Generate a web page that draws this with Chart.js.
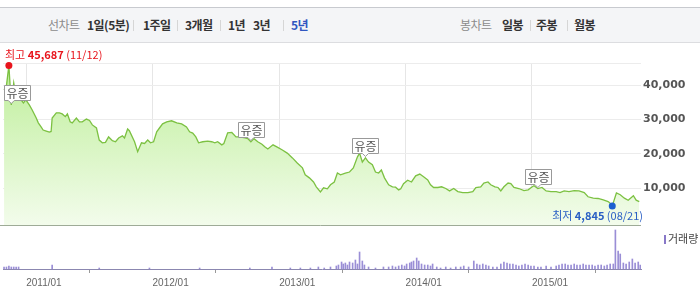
<!DOCTYPE html>
<html>
<head>
<meta charset="utf-8">
<script src="https://cdn.jsdelivr.net/npm/chart.js@4"></script>
<style>
body{margin:0;width:700px;height:298px;background:#fff;position:relative;overflow:hidden;font-family:"Noto Sans CJK KR",sans-serif}
#hdr{position:absolute;left:0;top:7px;width:700px;height:34px;background:#f4f5f7;border-top:1px solid #c8cacf;border-bottom:1px solid #dcdde0}
#hdr span{position:absolute;top:0;line-height:34px;font-size:12px;font-weight:bold;color:#333;letter-spacing:-0.5px;white-space:nowrap}
#hdr span.cap{color:#8c8c8c;font-weight:normal}
#hdr span.on{color:#2f56c0}
#hdr i{position:absolute;top:12px;width:1px;height:11px;background:#d6d6d6}
canvas{position:absolute;left:0}
</style>
</head>
<body>
<div id="hdr">
  <span class="cap" style="left:48px">선차트</span>
  <span style="left:87px">1일(5분)</span><i style="left:133px"></i>
  <span style="left:143px">1주일</span><i style="left:177px"></i>
  <span style="left:185px">3개월</span><i style="left:220px"></i>
  <span style="left:228px">1년</span>
  <span style="left:253px">3년</span><i style="left:283px"></i>
  <span class="on" style="left:291px">5년</span>
  <span class="cap" style="left:460px">봉차트</span>
  <span style="left:502px">일봉</span><i style="left:530px"></i>
  <span style="left:536px">주봉</span><i style="left:567px"></i>
  <span style="left:574px">월봉</span>
</div>
<canvas id="price" width="700" height="181" style="top:45px"></canvas>
<canvas id="volume" width="700" height="72" style="top:226px"></canvas>
<script>
// weekly close
const priceDates = [
  '2010-10-29','2010-11-05','2010-11-12','2010-11-19','2010-11-26','2010-12-03','2010-12-10','2010-12-17','2010-12-24','2010-12-31',
  '2011-01-10','2011-01-18','2011-01-30','2011-02-05','2011-02-13','2011-02-19','2011-02-28','2011-03-09','2011-03-14','2011-03-17',
  '2011-03-29','2011-04-07','2011-04-15','2011-04-24','2011-04-30','2011-05-08','2011-05-14','2011-05-26','2011-06-04','2011-06-12',
  '2011-06-24','2011-07-03','2011-07-11','2011-07-23','2011-07-31','2011-08-09','2011-08-18','2011-08-27','2011-09-07','2011-09-16',
  '2011-09-25','2011-10-06','2011-10-12','2011-10-21','2011-10-26','2011-11-10','2011-11-19','2011-11-30','2011-12-09','2011-12-18',
  '2011-12-26','2012-01-04','2012-01-13','2012-01-21','2012-01-30','2012-02-11','2012-02-25','2012-03-11','2012-03-25','2012-04-08',
  '2012-04-17','2012-04-26','2012-05-05','2012-05-13','2012-05-25','2012-06-08','2012-06-20','2012-06-29','2012-07-07','2012-07-19',
  '2012-07-25','2012-08-05','2012-08-17','2012-08-29','2012-09-09','2012-09-24','2012-10-02','2012-10-11','2012-10-20','2012-10-31',
  '2012-11-12','2012-11-21','2012-11-29','2012-12-14','2012-12-25','2013-01-10','2013-01-24','2013-02-08','2013-02-22','2013-03-09',
  '2013-03-17','2013-03-29','2013-04-10','2013-04-18','2013-04-30','2013-05-09','2013-05-20','2013-05-29','2013-06-09','2013-06-18',
  '2013-06-27','2013-07-11','2013-07-23','2013-08-03','2013-08-15','2013-08-21','2013-08-29','2013-09-07','2013-09-16','2013-09-27',
  '2013-10-06','2013-10-15','2013-10-23','2013-11-01','2013-11-13','2013-11-24','2013-12-03','2013-12-12','2013-12-18','2013-12-26',
  '2014-01-07','2014-01-18','2014-01-30','2014-02-11','2014-02-22','2014-03-06','2014-03-14','2014-03-23','2014-04-04','2014-04-15',
  '2014-04-27','2014-05-08','2014-05-20','2014-06-01','2014-06-15','2014-06-30','2014-07-14','2014-07-23','2014-08-06','2014-08-15',
  '2014-08-27','2014-09-04','2014-09-16','2014-09-25','2014-10-03','2014-10-12','2014-10-24','2014-11-01','2014-11-10','2014-11-24',
  '2014-12-09','2014-12-21','2015-01-02','2015-01-07','2015-01-18','2015-01-30','2015-02-11','2015-02-25','2015-03-12','2015-03-23',
  '2015-04-04','2015-04-18','2015-05-03','2015-05-17','2015-06-01','2015-06-12','2015-06-27','2015-07-11','2015-07-26','2015-08-09',
  '2015-08-14','2015-08-21','2015-09-02','2015-09-13','2015-09-25','2015-10-06','2015-10-21','2015-10-29','2015-11-07'
];
const priceValues = [
  38600,39800,45687,34200,40600,36500,35900,35700,34800,35700,
  34200,32800,30400,29000,27800,26900,26600,26300,26500,30400,
  31900,31900,31600,30800,31600,29300,29000,30400,29300,29300,
  30100,29700,28400,27500,24000,23200,23300,24900,23800,23500,
  24600,25200,24600,27200,26700,23500,20600,23200,23000,24000,
  23200,23500,26400,27500,28700,29300,29600,29000,28700,27800,
  26400,26000,24900,23200,23500,23700,23500,23200,23500,22600,
  23000,26100,26200,24900,24900,24600,24400,23500,24400,23500,
  22800,22000,21400,22600,22000,21100,20200,18800,17300,15900,
  13900,13000,11800,10400,8900,10100,9800,11000,11800,14400,
  13900,14400,14700,15900,19100,20200,17600,18800,17600,16800,
  14700,14400,15300,13000,11000,10400,10300,9500,9800,11300,
  12300,11800,13600,14100,13300,12400,11000,10200,10200,10400,
  9900,9200,9900,9000,8700,8700,9000,10200,10400,11500,
  11800,11000,10400,10200,9200,10400,11500,11300,10200,9900,
  9300,9500,10400,10700,9900,10200,9200,9000,9000,8700,
  9200,9000,9300,9200,8700,7500,7100,7000,6600,6100,
  5700,4845,8600,8100,7100,6500,7800,6500,6100
];

// volume, thousand shares
const volDates = [
  '2010-10-29','2010-11-05','2010-11-12','2010-11-19','2010-11-26','2010-12-03','2010-12-10','2011-03-17','2011-07-31','2011-12-23',
  '2012-05-16','2012-10-08','2012-12-11','2013-02-02','2013-03-03','2013-04-01','2013-04-24','2013-05-11','2013-05-29','2013-06-15',
  '2013-06-21','2013-06-30','2013-07-05','2013-07-11','2013-07-17','2013-07-23','2013-08-01','2013-08-09','2013-08-15','2013-08-21',
  '2013-08-29','2013-09-04','2013-09-16','2013-10-06','2013-10-29','2013-11-13','2013-11-24','2013-12-03','2013-12-12','2013-12-21',
  '2013-12-29','2014-01-04','2014-01-13','2014-01-18','2014-01-24','2014-02-02','2014-02-08','2014-02-16','2014-02-25','2014-03-06',
  '2014-03-14','2014-03-20','2014-04-01','2014-04-12','2014-04-27','2014-05-11','2014-05-26','2014-06-09','2014-06-18','2014-07-02',
  '2014-07-17','2014-07-26','2014-08-03','2014-08-12','2014-08-21','2014-08-29','2014-09-10','2014-09-22','2014-10-03','2014-10-12',
  '2014-10-21','2014-10-29','2014-11-07','2014-11-16','2014-11-24','2014-12-03','2014-12-12','2014-12-21','2014-12-29','2015-01-07',
  '2015-01-18','2015-01-27','2015-02-11','2015-02-25','2015-03-12','2015-03-20','2015-03-29','2015-04-07','2015-04-15','2015-04-24',
  '2015-05-03','2015-05-11','2015-05-20','2015-05-29','2015-06-06','2015-06-15','2015-06-24','2015-07-02','2015-07-11','2015-07-20',
  '2015-07-29','2015-08-06','2015-08-15','2015-08-24','2015-08-30','2015-09-07','2015-09-13','2015-09-22','2015-09-30','2015-10-09',
  '2015-10-18','2015-10-26','2015-11-04','2015-11-10'
];
const volValues = [
  20,20,30,20,20,20,20,40,10,10,
  10,10,20,10,10,10,20,10,20,30,
  40,70,50,60,40,70,60,90,50,170,
  80,40,20,10,20,20,30,20,30,40,
  30,50,60,70,80,110,80,50,40,40,
  30,50,20,10,20,10,20,20,30,20,
  80,50,40,50,40,30,20,20,50,70,
  60,50,50,40,30,40,50,40,30,30,
  20,20,30,20,30,40,50,50,40,40,
  50,40,40,50,40,40,40,30,40,40,
  30,40,50,50,390,180,150,60,50,70,
  100,60,70,40
];

const yearDates = ['2011-01-01', '2012-01-01', '2013-01-01', '2014-01-01', '2015-01-01'];
const yearLabels = ['2011/01', '2012/01', '2013/01', '2014/01', '2015/01'];
const priceTicks = [10000, 20000, 30000, 40000];
const eventDates = ['2010-11-19', '2012-10-11', '2013-09-07', '2015-01-18'];
const eventText = '유증';
const highDate = '2010-11-12';
const highText = ['최고 ', '45,687', ' (11/12)'];
const lowDate = '2015-08-21';
const lowText = ['최저 ', '4,845', ' (08/21)'];
const volLegend = '거래량';
const xFrom = '2010-10-26';
const xTo = '2015-11-12';

const day = d => Date.parse(d) / 86400000;
const KR = '"Noto Sans CJK KR"';

function drawParts(ctx, parts, x, y, color, alignRight) {
    const fonts = ['11px ' + KR, 'bold 11px ' + KR, '11px ' + KR];
    let total = 0;
    parts.forEach((p, i) => { ctx.font = fonts[i]; total += ctx.measureText(p).width; });
    let cx = alignRight ? x - total : x;
    ctx.fillStyle = color;
    ctx.textAlign = 'left';
    ctx.textBaseline = 'middle';
    parts.forEach((p, i) => {
        ctx.font = fonts[i];
        ctx.fillText(p, cx, y);
        cx += ctx.measureText(p).width;
    });
}

const priceMarks = {
    id: 'priceMarks',
    afterDatasetsDraw(chart) {
        const {ctx, chartArea: a, scales: {x, y}} = chart;
        ctx.save();
        ctx.lineWidth = 1;
        ctx.strokeStyle = '#ececec';
        ctx.beginPath(); ctx.moveTo(a.left, a.top + 0.5); ctx.lineTo(a.right, a.top + 0.5); ctx.stroke();
        ctx.strokeStyle = '#9eab97';
        ctx.beginPath(); ctx.moveTo(0, a.bottom - 0.5); ctx.lineTo(a.right, a.bottom - 0.5); ctx.stroke();

        // rights offering flags
        eventDates.forEach(d => {
            const i = priceDates.indexOf(d);
            const px = x.getPixelForValue(day(d));
            const py = y.getPixelForValue(priceValues[i]);
            const w = 26, h = 15;
            const bx = Math.round(Math.max(a.left + 1, Math.min(px - w / 2, a.right - w - 1)));
            const by = Math.round(py - 5 - h);
            const cx = Math.max(bx + 5, Math.min(px, bx + w - 5));
            ctx.fillStyle = '#fff';
            ctx.strokeStyle = '#999';
            ctx.beginPath();
            ctx.moveTo(bx + 0.5, by + 0.5);
            ctx.lineTo(bx + w + 0.5, by + 0.5);
            ctx.lineTo(bx + w + 0.5, by + h + 0.5);
            ctx.lineTo(cx + 3, by + h + 0.5);
            ctx.lineTo(cx, by + h + 3.5);
            ctx.lineTo(cx - 3, by + h + 0.5);
            ctx.lineTo(bx + 0.5, by + h + 0.5);
            ctx.closePath();
            ctx.fill();
            ctx.stroke();
            ctx.fillStyle = '#555';
            ctx.font = '12px ' + KR;
            ctx.textAlign = 'center';
            ctx.textBaseline = 'middle';
            ctx.fillText(eventText, bx + w / 2 + 0.5, by + h / 2 + 1);
        });

        // high / low
        const hi = priceDates.indexOf(highDate);
        const hx = x.getPixelForValue(day(highDate)), hy = y.getPixelForValue(priceValues[hi]);
        ctx.fillStyle = '#e8141c';
        ctx.beginPath(); ctx.arc(hx, hy, 3.5, 0, Math.PI * 2); ctx.fill();
        drawParts(ctx, highText, a.left + 2, a.top - 8, '#e8141c', false);

        const lo = priceDates.indexOf(lowDate);
        const lx = x.getPixelForValue(day(lowDate)), ly = y.getPixelForValue(priceValues[lo]);
        ctx.fillStyle = '#1c5fd0';
        ctx.beginPath(); ctx.arc(lx, ly, 3.5, 0, Math.PI * 2); ctx.fill();
        drawParts(ctx, lowText, a.right + 2, ly + 10, '#2a5fc4', true);
        ctx.restore();
    }
};

new Chart(document.getElementById('price'), {
    type: 'line',
    data: {
        datasets: [{
            data: priceDates.map((d, i) => ({x: day(d), y: priceValues[i]})),
            borderColor: '#7cc142',
            borderWidth: 1.3,
            pointRadius: 0,
            tension: 0,
            fill: 'start',
            backgroundColor: function (c) {
                const a = c.chart.chartArea;
                if (!a) return 'rgba(0,0,0,0)';
                const g = c.chart.ctx.createLinearGradient(0, a.top, 0, a.bottom);
                g.addColorStop(0, '#bdee98');
                g.addColorStop(1, '#f3fcec');
                return g;
            }
        }]
    },
    options: {
        responsive: false,
        animation: false,
        layout: {padding: {left: 3, top: 18, right: 0, bottom: 0}},
        plugins: {legend: {display: false}, tooltip: {enabled: false}},
        scales: {
            x: {
                type: 'linear',
                min: day(xFrom),
                max: day(xTo),
                bounds: 'data',
                afterBuildTicks: s => { s.ticks = yearDates.map(d => ({value: day(d)})); },
                afterFit: s => { s.height = 0; s.paddingLeft = 0; s.paddingRight = 0; },
                ticks: {display: false},
                grid: {color: '#e6e6e6', drawTicks: false},
                border: {display: false}
            },
            y: {
                position: 'right',
                min: -1000,
                max: 46400,
                bounds: 'data',
                afterBuildTicks: s => { s.ticks = priceTicks.map(v => ({value: v})); },
                afterFit: s => { s.width = 59; s.paddingTop = 0; s.paddingBottom = 0; },
                ticks: {
                    padding: 2,
                    color: '#555',
                    font: {family: 'DejaVu Sans', size: 11, weight: 'bold'},
                    callback: v => v.toLocaleString('en-US')
                },
                grid: {color: '#ececec', drawTicks: false},
                border: {display: false}
            }
        }
    },
    plugins: [priceMarks]
});

const volMarks = {
    id: 'volMarks',
    afterDraw(chart) {
        const ctx = chart.ctx;
        ctx.save();
        ctx.fillStyle = '#8878c8';
        ctx.fillRect(664, 9, 2, 9);
        ctx.fillStyle = '#444';
        ctx.font = '11px ' + KR;
        ctx.textAlign = 'left';
        ctx.textBaseline = 'middle';
        ctx.fillText(volLegend, 668, 13);
        ctx.restore();
    }
};

new Chart(document.getElementById('volume'), {
    type: 'bar',
    data: {
        datasets: [{
            data: volDates.map((d, i) => ({x: day(d), y: volValues[i]})),
            backgroundColor: '#9a8ed6',
            barThickness: 1
        }]
    },
    options: {
        responsive: false,
        animation: false,
        layout: {padding: {left: 3, top: 3, right: 59, bottom: 0}},
        plugins: {legend: {display: false}, tooltip: {enabled: false}},
        scales: {
            x: {
                type: 'linear',
                min: day(xFrom),
                max: day(xTo),
                bounds: 'data',
                offset: false,
                afterBuildTicks: s => { s.ticks = yearDates.map(d => ({value: day(d)})); },
                afterFit: s => { s.height = 29; s.paddingLeft = 0; s.paddingRight = 0; },
                ticks: {
                    align: 'start',
                    padding: 4,
                    maxRotation: 0,
                    autoSkip: false,
                    color: '#666',
                    font: {family: 'Liberation Sans', size: 10},
                    callback: (v, i) => yearLabels[i]
                },
                grid: {drawOnChartArea: false, tickLength: 4, tickColor: '#999'},
                border: {color: '#8b87b0'}
            },
            y: {
                display: false,
                min: 0,
                max: 400
            }
        }
    },
    plugins: [volMarks]
});
</script>
</body>
</html>
